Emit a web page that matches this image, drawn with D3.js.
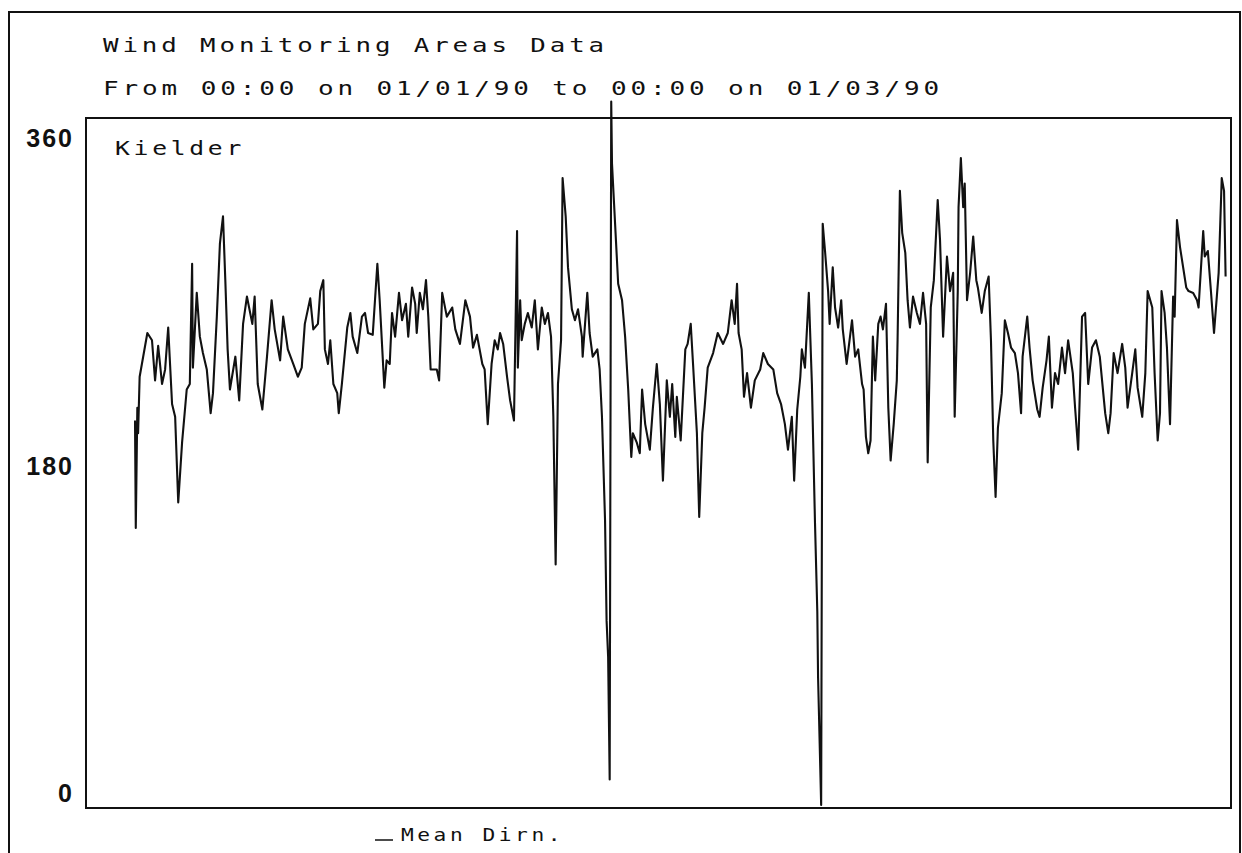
<!DOCTYPE html>
<html>
<meta charset="utf-8">
<style>
    body { margin: 0; background: #fff; }
    .plotter { font-family: "DejaVu Sans Mono", monospace; fill: #111; letter-spacing: 3px; }
    .ylab text { font-family: "Liberation Sans", Arial, sans-serif; font-weight: bold; font-size: 25px; fill: #111; }
</style>
<body>
<script src="https://cdnjs.cloudflare.com/ajax/libs/d3/7.8.5/d3.min.js"></script>
<div id="chart"></div>
<script>
// Chart text.
var titleLines = ["Wind Monitoring Areas Data", "From 00:00 on 01/01/90 to 00:00 on 01/03/90"];
var siteName = "Kielder";
var seriesName = "Mean Dirn.";
var yTicks = [0, 180, 360];

// Mean wind direction (degrees), as [hours since 00:00 01/01/90, direction].
var meanDirn = [
  [0,205],[1,146],[3,212],[4,198],[6,229],[16,253],[22,249],[26,227],[30,246],[35,225],[39,233],[43,256],
  [48,214],[52,207],[56,160],[61,193],[67,222],[71,225],[74,291],[75,234],[80,275],[84,251],[88,242],[93,233],
  [98,209],[101,220],[106,262],[110,302],[114,317],[117,282],[120,244],[123,222],[130,240],[135,216],[140,258],
  [145,273],[152,258],[155,273],[159,225],[165,211],[171,240],[177,271],[181,255],[188,238],[192,262],[198,244],
  [205,236],[211,229],[216,234],[220,258],[227,272],[231,255],[237,258],[240,276],[244,282],[246,244],[250,236],
  [253,249],[257,225],[262,220],[264,209],[268,225],[275,256],[279,264],[282,251],[288,242],[294,262],[298,264],
  [302,253],[308,252],[314,291],[317,271],[323,223],[326,238],[330,236],[333,264],[337,251],[342,275],[346,260],
  [351,269],[354,251],[359,278],[363,269],[365,253],[369,275],[373,266],[377,282],[380,262],[383,233],[391,233],
  [394,227],[398,275],[404,262],[411,267],[415,255],[421,247],[428,271],[434,262],[438,245],[443,252],[450,236],
  [453,233],[457,203],[462,236],[466,249],[470,244],[473,253],[477,247],[482,229],[486,216],[491,205],[495,309],
  [496,234],[499,271],[501,249],[505,258],[509,264],[514,256],[518,271],[522,244],[527,267],[531,258],[535,264],
  [539,251],[542,207],[545,126],[548,225],[552,249],[554,338],[558,317],[561,289],[566,266],[570,260],[574,266],
  [579,251],[580,240],[586,275],[589,253],[593,240],[599,244],[602,233],[605,207],[609,150],[611,95],[613,75],
  [615,8],[617,380],[618,346],[626,280],[631,271],[635,251],[639,222],[643,185],[645,198],[650,193],[654,187],
  [657,222],[661,203],[667,189],[671,212],[676,236],[680,214],[684,172],[689,227],[693,207],[696,225],[700,196],
  [702,218],[707,194],[713,244],[716,247],[720,258],[723,236],[728,198],[731,152],[735,198],[738,212],[742,234],
  [749,242],[755,253],[762,247],[768,253],[773,271],[777,258],[780,280],[782,253],[786,244],[789,218],[793,231],
  [798,212],[803,227],[810,233],[814,242],[820,236],[827,233],[832,220],[837,214],[842,203],[846,189],[851,207],
  [854,172],[858,211],[862,229],[864,244],[868,234],[873,275],[877,225],[881,149],[884,100],[885,64],[889,-6],
  [891,313],[894,298],[898,276],[900,258],[904,289],[907,267],[911,256],[915,271],[917,255],[922,236],[929,260],
  [933,240],[937,244],[942,225],[944,222],[947,196],[950,187],[953,194],[956,251],[959,227],[963,258],[966,262],
  [969,255],[973,269],[976,212],[979,183],[983,203],[987,227],[988,249],[991,331],[994,308],[998,297],[1001,271],
  [1004,256],[1008,273],[1013,264],[1017,258],[1021,275],[1025,258],[1027,182],[1031,267],[1035,282],[1040,326],
  [1043,304],[1047,251],[1052,295],[1056,276],[1060,286],[1062,207],[1066,276],[1067,322],[1070,349],[1073,322],
  [1075,335],[1078,271],[1082,286],[1086,306],[1090,282],[1092,278],[1097,264],[1101,276],[1106,284],[1109,249],
  [1112,194],[1115,163],[1118,201],[1123,220],[1127,260],[1131,253],[1135,245],[1140,242],[1144,231],[1148,209],
  [1150,240],[1156,262],[1159,245],[1163,227],[1169,211],[1172,207],[1176,223],[1181,238],[1184,251],[1188,212],
  [1192,231],[1196,225],[1201,245],[1205,231],[1209,249],[1215,231],[1218,212],[1222,189],[1227,262],[1231,264],
  [1235,225],[1240,245],[1245,249],[1250,240],[1257,209],[1261,198],[1264,209],[1268,242],[1273,231],[1279,247],
  [1283,234],[1286,212],[1292,231],[1296,244],[1299,223],[1305,207],[1309,231],[1312,276],[1318,267],[1321,231],
  [1325,194],[1328,209],[1330,276],[1334,264],[1337,245],[1341,203],[1345,273],[1347,262],[1350,315],[1354,300],
  [1358,289],[1362,278],[1365,276],[1371,275],[1376,271],[1378,267],[1384,309],[1386,295],[1390,298],[1394,276],
  [1398,253],[1402,275],[1404,286],[1408,338],[1411,331],[1413,284]
];

var W = 1242, H = 853;
var plot = {left: 86, top: 118, right: 1231, bottom: 808};

var svg = d3.select("#chart").append("svg")
    .attr("width", W).attr("height", H);

// Outer page frame.
svg.append("rect")
    .attr("x", 9).attr("y", 12).attr("width", 1231).attr("height", 860)
    .attr("fill", "none").attr("stroke", "#111").attr("stroke-width", 2);

// Scales.
var x = d3.scaleLinear().domain([-63.5, 1420]).range([plot.left, plot.right]);
var y = d3.scaleLinear().domain([-7.7, 371]).range([plot.bottom, plot.top]);

// Plotter style text: glyphs stretched a little to the wide pen font.
var plotterText = function(str, px, py, width, size) {
    return svg.append("text")
        .attr("class", "plotter")
        .attr("x", px).attr("y", py)
        .attr("font-size", size)
        .attr("textLength", width)
        .attr("lengthAdjust", "spacingAndGlyphs")
        .text(str);
};

// Titles.
plotterText(titleLines[0], 103, 52, 505, 20);
plotterText(titleLines[1], 103, 95, 840, 20);

// Plot frame.
svg.append("rect")
    .attr("x", plot.left).attr("y", plot.top)
    .attr("width", plot.right - plot.left).attr("height", plot.bottom - plot.top)
    .attr("fill", "none").attr("stroke", "#111").attr("stroke-width", 2);

// Site label.
plotterText(siteName, 115, 155, 130, 20);

// Y axis labels only.
var yAxis = d3.axisLeft(y).tickValues(yTicks).tickSize(0).tickPadding(12);
var gy = svg.append("g")
    .attr("class", "ylab")
    .attr("transform", "translate(" + plot.left + ",0)")
    .call(yAxis);
gy.select(".domain").remove();
gy.selectAll("text").attr("letter-spacing", 2);

// Mean direction line.
var line = d3.line()
    .x(function(d) { return x(d[0]); })
    .y(function(d) { return y(d[1]); });

svg.append("path")
    .datum(meanDirn)
    .attr("d", line)
    .attr("fill", "none")
    .attr("stroke", "#111")
    .attr("stroke-width", 2.1)
    .attr("stroke-linejoin", "round");

// Legend.
svg.append("line")
    .attr("x1", 375).attr("x2", 393).attr("y1", 840).attr("y2", 840)
    .attr("stroke", "#111").attr("stroke-width", 1.5);
plotterText(seriesName, 401, 841, 163, 18);
</script>
</body>
</html>
